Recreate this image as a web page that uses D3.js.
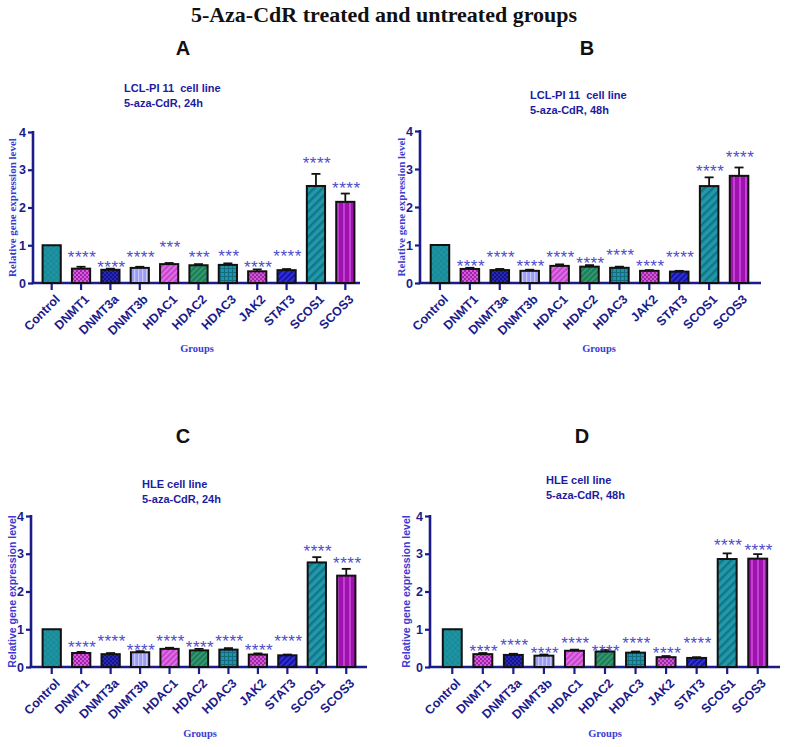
<!DOCTYPE html>
<html>
<head>
<meta charset="utf-8">
<script src="https://cdn.jsdelivr.net/npm/d3@7"></script>
<style>
  html, body { margin: 0; padding: 0; background: #fff; }
  svg { display: block; }
</style>
</head>
<body>
<div id="chart"></div>
<script>
const groups = ['Control', 'DNMT1', 'DNMT3a', 'DNMT3b', 'HDAC1', 'HDAC2', 'HDAC3', 'JAK2', 'STAT3', 'SCOS1', 'SCOS3']
const yTicks = [0, 1, 2, 3, 4]

// Panel A: LCL-PI 11, 24h
const meanA = [1.0, 0.38, 0.35, 0.40, 0.50, 0.47, 0.48, 0.31, 0.34, 2.57, 2.15]
const errA = [0, 0.05, 0.03, 0.03, 0.03, 0.03, 0.04, 0.05, 0.03, 0.32, 0.22]
const sigA = ['', '****', '****', '****', '***', '***', '***', '****', '****', '****', '****']
const sigLevelA = [0, 0.80, 0.52, 0.80, 1.07, 0.80, 0.83, 0.52, 0.83, 3.28, 2.62]

// Panel B: LCL-PI 11, 48h
const meanB = [1.0, 0.37, 0.34, 0.32, 0.45, 0.43, 0.40, 0.32, 0.30, 2.55, 2.82]
const errB = [0, 0.03, 0.03, 0.03, 0.04, 0.04, 0.03, 0.02, 0.02, 0.23, 0.22]
const sigB = ['', '****', '****', '****', '****', '****', '****', '****', '****', '****', '****']
const sigLevelB = [0, 0.54, 0.78, 0.54, 0.78, 0.63, 0.85, 0.54, 0.78, 3.04, 3.41]

// Panel C: HLE, 24h
const meanC = [1.0, 0.37, 0.34, 0.39, 0.48, 0.44, 0.46, 0.33, 0.31, 2.77, 2.42]
const errC = [0, 0.03, 0.03, 0.03, 0.03, 0.04, 0.04, 0.03, 0.02, 0.14, 0.18]
const sigC = ['', '****', '****', '****', '****', '****', '****', '****', '****', '****', '****']
const sigLevelC = [0, 0.63, 0.80, 0.56, 0.80, 0.63, 0.80, 0.56, 0.80, 3.17, 2.86]

// Panel D: HLE, 48h
const meanD = [1.0, 0.34, 0.32, 0.30, 0.43, 0.41, 0.38, 0.26, 0.24, 2.86, 2.87]
const errD = [0, 0.03, 0.03, 0.03, 0.03, 0.04, 0.03, 0.03, 0.02, 0.15, 0.12]
const sigD = ['', '****', '****', '****', '****', '****', '****', '****', '****', '****', '****']
const sigLevelD = [0, 0.54, 0.70, 0.47, 0.74, 0.54, 0.74, 0.47, 0.74, 3.35, 3.21]

const W = 789, H = 747
const NAVY = '#1b1b8a'
const LABEL_BLUE = '#3b3bd0'
const STAR_BLUE = '#4d4dcc'
const SANS = '"Liberation Sans", Arial, sans-serif'
const SERIF = '"Liberation Serif", "Times New Roman", serif'

// fill + hatch style for each group
const barStyle = {
  Control: { base: '#1d95a3', ink: '#157b88', kind: 'cross' },
  DNMT1:   { base: '#a41fae', ink: '#d060d8', kind: 'check' },
  DNMT3a:  { base: '#12128f', ink: '#2a2ab0', kind: 'check' },
  DNMT3b:  { base: '#9c9cf2', ink: '#c8c8ff', kind: 'vert' },
  HDAC1:   { base: '#c844d0', ink: '#e27de8', kind: 'diag' },
  HDAC2:   { base: '#1e7d58', ink: '#3aa078', kind: 'diag' },
  HDAC3:   { base: '#2193a8', ink: '#136d80', kind: 'grid' },
  JAK2:    { base: '#a224a8', ink: '#cc5ccf', kind: 'check' },
  STAT3:   { base: '#1414b0', ink: '#3a3ad8', kind: 'diag' },
  SCOS1:   { base: '#2299aa', ink: '#117788', kind: 'stripe' },
  SCOS3:   { base: '#a012b0', ink: '#c040d0', kind: 'vstripe' }
}

const panels = [
  { letter: 'A', mean: meanA, err: errA, sig: sigA, sigLevel: sigLevelA,
    title: ['LCL-PI 11  cell line', '5-aza-CdR, 24h'], titleX: 124, titleY: 92,
    axisX: 33, xEnd: 360, range: [37, 360], y0: 283, y4: 132,
    ylabX: 12, ylabFont: 'serif', groupsX: 197, groupsY: 352, letterX: 183, letterY: 55 },
  { letter: 'B', mean: meanB, err: errB, sig: sigB, sigLevel: sigLevelB,
    title: ['LCL-PI 11  cell line', '5-aza-CdR, 48h'], titleX: 530, titleY: 99,
    axisX: 420, xEnd: 761, range: [425, 754], y0: 283, y4: 131,
    ylabX: 401, ylabFont: 'serif', groupsX: 599, groupsY: 352, letterX: 587, letterY: 55 },
  { letter: 'C', mean: meanC, err: errC, sig: sigC, sigLevel: sigLevelC,
    title: ['HLE cell line', '5-aza-CdR, 24h'], titleX: 142, titleY: 488,
    axisX: 31, xEnd: 367, range: [37, 361], y0: 667, y4: 516,
    ylabX: 12, ylabFont: 'sans', groupsX: 200, groupsY: 737, letterX: 183, letterY: 443 },
  { letter: 'D', mean: meanD, err: errD, sig: sigD, sigLevel: sigLevelD,
    title: ['HLE cell line', '5-aza-CdR, 48h'], titleX: 546, titleY: 484,
    axisX: 430, xEnd: 780, range: [437, 773], y0: 667, y4: 516,
    ylabX: 406, ylabFont: 'sans', groupsX: 605, groupsY: 737, letterX: 582, letterY: 443 }
]

const svg = d3.select('#chart').append('svg')
  .attr('width', W).attr('height', H)
  .attr('viewBox', `0 0 ${W} ${H}`)

const defs = svg.append('defs')

function makePattern(name, st) {
  const p = defs.append('pattern')
    .attr('id', 'pat-' + name)
    .attr('patternUnits', 'userSpaceOnUse')
  const s = st.kind === 'stripe' || st.kind === 'vstripe' ? 6 : 4
  p.attr('width', s).attr('height', s)
  p.append('rect').attr('width', s).attr('height', s).attr('fill', st.base)
  if (st.kind === 'check') {
    p.append('rect').attr('width', 2).attr('height', 2).attr('fill', st.ink)
    p.append('rect').attr('x', 2).attr('y', 2).attr('width', 2).attr('height', 2).attr('fill', st.ink)
  } else if (st.kind === 'vert') {
    p.append('rect').attr('x', 2).attr('width', 1.2).attr('height', s).attr('fill', st.ink)
  } else if (st.kind === 'diag') {
    p.attr('patternTransform', 'rotate(45)')
    p.append('rect').attr('width', 1.5).attr('height', s).attr('fill', st.ink)
  } else if (st.kind === 'grid') {
    p.append('rect').attr('width', 1).attr('height', s).attr('fill', st.ink)
    p.append('rect').attr('width', s).attr('height', 1).attr('fill', st.ink)
  } else if (st.kind === 'cross') {
    p.attr('patternTransform', 'rotate(45)')
    p.append('rect').attr('width', 0.8).attr('height', s).attr('fill', st.ink).attr('opacity', 0.6)
    p.append('rect').attr('width', s).attr('height', 0.8).attr('fill', st.ink).attr('opacity', 0.6)
  } else if (st.kind === 'stripe') {
    p.attr('patternTransform', 'rotate(45)')
    p.append('rect').attr('width', 2.5).attr('height', s).attr('fill', st.ink)
  } else if (st.kind === 'vstripe') {
    p.append('rect').attr('x', 1).attr('width', 2).attr('height', s).attr('fill', st.ink)
  }
}
Object.entries(barStyle).forEach(([k, v]) => makePattern(k, v))

// main title
svg.append('text')
  .attr('x', 384).attr('y', 22)
  .attr('text-anchor', 'middle')
  .attr('font-family', SERIF)
  .attr('font-weight', 'bold').attr('font-size', 22)
  .attr('fill', '#111')
  .text('5-Aza-CdR treated and untreated groups')

panels.forEach(drawPanel)

function drawPanel(pn) {
  const g = svg.append('g')

  const x = d3.scaleBand().domain(groups).range(pn.range)
    .paddingInner(0.38).paddingOuter(0.19)
  const y = d3.scaleLinear().domain([0, 4]).range([pn.y0, pn.y4])

  // panel letter
  g.append('text')
    .attr('x', pn.letterX).attr('y', pn.letterY)
    .attr('text-anchor', 'middle')
    .attr('font-family', SANS)
    .attr('font-weight', 'bold').attr('font-size', 20)
    .attr('fill', '#111')
    .text(pn.letter)

  // small blue title
  g.append('text')
    .attr('font-family', SANS)
    .attr('font-weight', 'bold').attr('font-size', 11)
    .attr('fill', '#1c1ca0')
    .selectAll('tspan').data(pn.title).join('tspan')
    .attr('x', pn.titleX)
    .attr('y', (d, i) => pn.titleY + i * 15)
    .style('white-space', 'pre')
    .text(d => d)

  // y axis
  const yAxis = g.append('g')
    .attr('transform', `translate(${pn.axisX},0)`)
    .call(d3.axisLeft(y).tickValues(yTicks).tickSize(5).tickSizeOuter(0).tickFormat(d3.format('d')))
  yAxis.select('.domain').remove()
  yAxis.selectAll('line').attr('stroke', NAVY).attr('stroke-width', 2.2)
  yAxis.selectAll('text')
    .attr('fill', NAVY).attr('font-size', 12.5).attr('font-weight', 'bold')
    .attr('font-family', SANS)
    .attr('x', -7)

  // x axis
  const xAxis = g.append('g')
    .attr('transform', `translate(0,${pn.y0})`)
    .call(d3.axisBottom(x).tickSize(7).tickSizeOuter(0))
  xAxis.select('.domain').remove()
  xAxis.selectAll('line').attr('stroke', NAVY).attr('stroke-width', 2.2)
  xAxis.selectAll('text')
    .attr('fill', NAVY).attr('font-size', 12.5).attr('font-weight', 'bold')
    .attr('font-family', SANS)
    .attr('text-anchor', 'end')
    .attr('dy', 0)
    .attr('transform', 'translate(9,17) rotate(-45)')
    .attr('y', 0).attr('x', 0)

  // axis lines
  g.append('line')
    .attr('x1', pn.axisX).attr('x2', pn.axisX)
    .attr('y1', y(0) + 1).attr('y2', y(4) - 1)
    .attr('stroke', NAVY).attr('stroke-width', 2.6)
  g.append('line')
    .attr('x1', pn.axisX - 1.3).attr('x2', pn.xEnd)
    .attr('y1', y(0)).attr('y2', y(0))
    .attr('stroke', NAVY).attr('stroke-width', 2.6)

  const rows = groups.map((name, i) => ({
    name, mean: pn.mean[i], err: pn.err[i], sig: pn.sig[i], level: pn.sigLevel[i]
  }))

  // bars
  g.append('g').selectAll('rect').data(rows).join('rect')
    .attr('x', d => x(d.name))
    .attr('y', d => y(d.mean))
    .attr('width', x.bandwidth())
    .attr('height', d => y(0) - y(d.mean))
    .attr('fill', d => `url(#pat-${d.name})`)
    .attr('stroke', '#111').attr('stroke-width', 2)

  // error bars
  const eb = g.append('g').selectAll('g').data(rows.filter(d => d.err > 0)).join('g')
    .attr('stroke', '#111').attr('stroke-width', 1.8)
  eb.append('line')
    .attr('x1', d => x(d.name) + x.bandwidth() / 2)
    .attr('x2', d => x(d.name) + x.bandwidth() / 2)
    .attr('y1', d => y(d.mean))
    .attr('y2', d => y(d.mean + d.err))
  eb.append('line')
    .attr('x1', d => x(d.name) + x.bandwidth() / 2 - 4.5)
    .attr('x2', d => x(d.name) + x.bandwidth() / 2 + 4.5)
    .attr('y1', d => y(d.mean + d.err))
    .attr('y2', d => y(d.mean + d.err))

  // significance stars
  g.append('g').selectAll('text').data(rows.filter(d => d.sig)).join('text')
    .attr('x', d => x(d.name) + x.bandwidth() / 2 + 1)
    .attr('y', d => y(d.level) + 10)
    .attr('text-anchor', 'middle')
    .attr('font-family', SANS)
    .attr('font-size', 17)
    .attr('letter-spacing', 0.5)
    .attr('fill', STAR_BLUE)
    .text(d => d.sig)

  // y label
  const ymid = (y(0) + y(4)) / 2
  g.append('text')
    .attr('transform', `translate(${pn.ylabX},${ymid}) rotate(-90)`)
    .attr('text-anchor', 'middle')
    .attr('dy', '0.35em')
    .attr('font-family', pn.ylabFont === 'serif' ? SERIF : SANS)
    .attr('font-weight', 'bold')
    .attr('font-size', pn.ylabFont === 'serif' ? 11 : 10.5)
    .attr('fill', LABEL_BLUE)
    .text('Relative gene expression level')

  // x label
  g.append('text')
    .attr('x', pn.groupsX).attr('y', pn.groupsY)
    .attr('text-anchor', 'middle')
    .attr('font-family', SERIF)
    .attr('font-weight', 'bold').attr('font-size', 10.5)
    .attr('fill', LABEL_BLUE)
    .text('Groups')
}
</script>
</body>
</html>
